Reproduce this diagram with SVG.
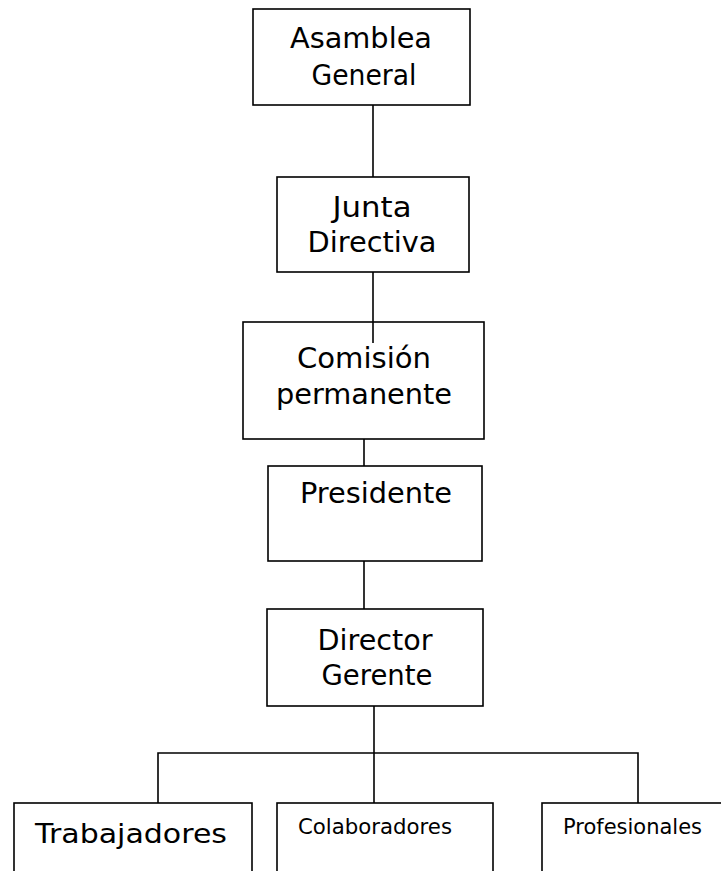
<svg xmlns="http://www.w3.org/2000/svg" width="721" height="871" viewBox="0 0 721 871">
<style>
.box{fill:#fff;stroke:#000;stroke-width:1.6}
.ln{fill:none;stroke:#000;stroke-width:1.6}
.t{font-family:"DejaVu Sans",Verdana,sans-serif;font-size:28px;fill:#000;text-anchor:middle}
.s{font-family:"DejaVu Sans",Verdana,sans-serif;fill:#000}
</style>
<rect width="721" height="871" fill="#fff"/>
<g id="n1"><rect class="box" x="253" y="9" width="217" height="96"/>
<text class="t" x="361" y="48" textLength="142" lengthAdjust="spacingAndGlyphs">Asamblea</text>
<text class="t" x="364" y="85" textLength="105" lengthAdjust="spacingAndGlyphs">General</text></g>
<g id="n2"><rect class="box" x="277" y="177" width="192" height="95"/>
<text class="t" x="372" y="217" textLength="79" lengthAdjust="spacingAndGlyphs">Junta</text>
<text class="t" x="372" y="252" textLength="129" lengthAdjust="spacingAndGlyphs">Directiva</text></g>
<g id="n3"><rect class="box" x="243" y="322" width="241" height="117"/>
<text class="t" x="364" y="368" textLength="134" lengthAdjust="spacingAndGlyphs">Comisión</text>
<text class="t" x="364" y="404" textLength="176" lengthAdjust="spacingAndGlyphs">permanente</text></g>
<g id="n4"><rect class="box" x="268" y="466" width="214" height="95"/>
<text class="t" x="376" y="503" textLength="152" lengthAdjust="spacingAndGlyphs">Presidente</text></g>
<g id="n5"><rect class="box" x="267" y="609" width="216" height="97"/>
<text class="t" x="375" y="650" textLength="115" lengthAdjust="spacingAndGlyphs">Director</text>
<text class="t" x="377" y="685" textLength="111" lengthAdjust="spacingAndGlyphs">Gerente</text></g>
<g id="n6"><rect class="box" x="14" y="803" width="238" height="100"/>
<text class="s" x="35" y="843" font-size="27" textLength="192" lengthAdjust="spacingAndGlyphs">Trabajadores</text></g>
<g id="n7"><rect class="box" x="277" y="803" width="216" height="100"/>
<text class="s" x="298" y="834" font-size="21" textLength="154" lengthAdjust="spacingAndGlyphs">Colaboradores</text></g>
<g id="n8"><rect class="box" x="542" y="803" width="200" height="100"/>
<text class="s" x="563" y="834" font-size="21" textLength="139" lengthAdjust="spacingAndGlyphs">Profesionales</text></g>
<g id="connectors">
<path class="ln" d="M373 105V177"/>
<path class="ln" d="M373 272V343"/>
<path class="ln" d="M364 439V466"/>
<path class="ln" d="M364 561V609"/>
<path class="ln" d="M374 706V803"/>
<path class="ln" d="M158 803V753H638V803"/>
</g>
</svg>
